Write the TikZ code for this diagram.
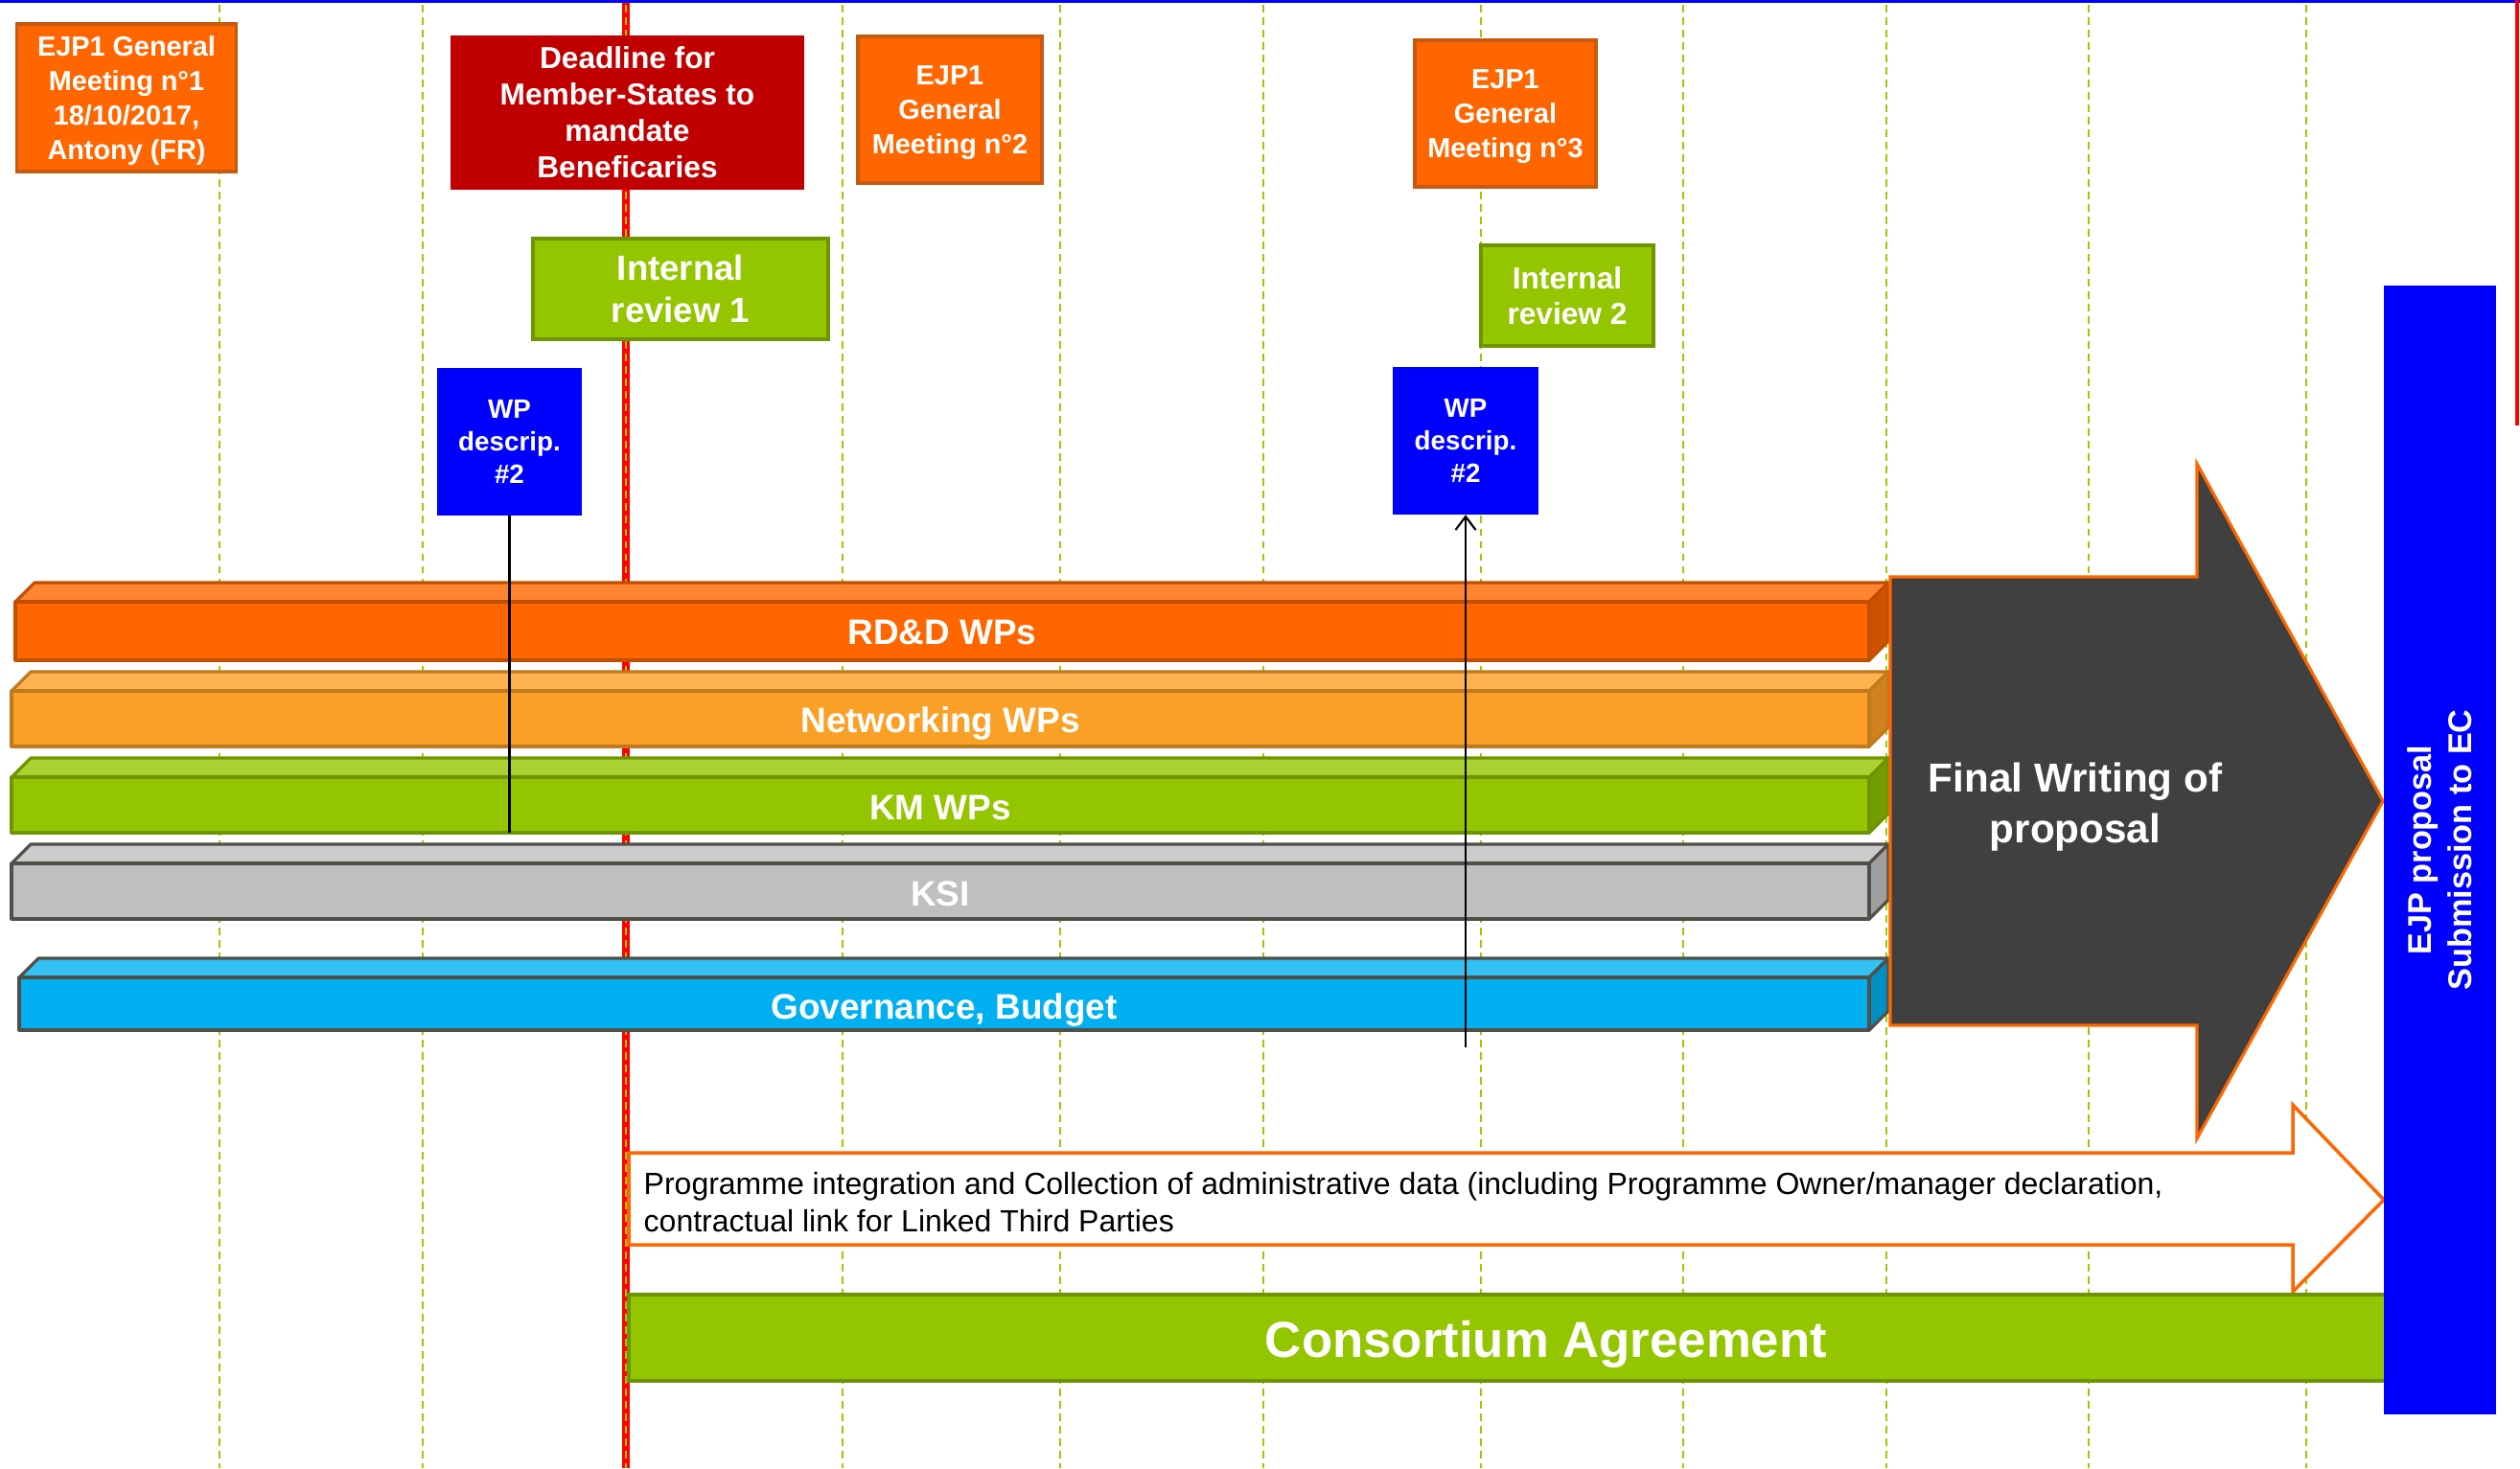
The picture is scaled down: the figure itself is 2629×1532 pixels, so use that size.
\documentclass[tikz,border=0pt]{standalone}
\usepackage{fontspec}
\setmainfont{Liberation Sans}
\usetikzlibrary{arrows.meta}

\definecolor{ejporange}{HTML}{FF6600}
\definecolor{orangeedge}{HTML}{C55A11}
\definecolor{deadred}{HTML}{C00000}
\definecolor{ejpgreen}{HTML}{94C600}
\definecolor{greenedge}{HTML}{6E9400}
\definecolor{wpblue}{HTML}{0000FF}
\definecolor{gridgreen}{HTML}{99CC00}
\definecolor{rddtop}{HTML}{FF8533}
\definecolor{rddside}{HTML}{CC5200}
\definecolor{rddedge}{HTML}{C04F00}
\definecolor{nettop}{HTML}{FDB24F}
\definecolor{netfront}{HTML}{FBA026}
\definecolor{netside}{HTML}{D0821C}
\definecolor{netedge}{HTML}{BF7A1E}
\definecolor{kmtop}{HTML}{AAD232}
\definecolor{kmside}{HTML}{729C00}
\definecolor{ksitop}{HTML}{CCCCCC}
\definecolor{ksifront}{HTML}{BFBFBF}
\definecolor{ksiside}{HTML}{9F9F9F}
\definecolor{darkedge}{HTML}{524E48}
\definecolor{govtop}{HTML}{33C0F3}
\definecolor{govfront}{HTML}{00B0F0}
\definecolor{govside}{HTML}{0090C4}
\definecolor{finalgrey}{HTML}{404040}

\tikzset{
  gridline/.style={gridgreen, line width=0.55pt, dash pattern=on 2.2pt off 1.5pt},
  meetbox/.style={draw=orangeedge, fill=ejporange, line width=1pt, text=white,
    align=center, inner sep=0pt, text depth=0pt,
    font=\bfseries\fontsize{8.2}{10.2}\selectfont},
  deadbox/.style={fill=deadred, text=white, align=center, inner sep=0pt,
    font=\bfseries\fontsize{9}{10.8}\selectfont},
  reviewbox/.style={draw=greenedge, fill=ejpgreen, line width=1pt, text=white,
    align=center, inner sep=0pt},
  wpbox/.style={fill=wpblue, text=white, align=center, inner sep=0pt,
    minimum width=1.51cm, minimum height=1.53cm,
    font=\bfseries\fontsize{7.9}{9.6}\selectfont},
  barface/.style={line width=0.9pt, line join=round},
  bartext/.style={text=white, inner sep=0pt, anchor=base,
    font=\bfseries\fontsize{10.5}{12}\selectfont},
}

\begin{document}
\begin{tikzpicture}[x=0.01cm, y=-0.01cm]
    \useasboundingbox (0,0) rectangle (2629,1532);

    % Time grid
    \foreach \x in {229,441,879,1106,1318,1545,1756,1968,2179,2406}
        \draw [gridline] (\x,5) -- (\x,1532);
    \draw [red, line width=2pt] (653,0) -- (653,1532);
    \draw [gridline] (653,5) -- (653,1532);

    % Slide edges
    \draw [wpblue, line width=0.9pt] (0,1.5) -- (2629,1.5);
    \draw [red, line width=0.9pt] (2626,0) -- (2626,444);

    % Milestones
    \node [meetbox, minimum width=2.29cm, minimum height=1.54cm] (gm1) at (132,102)
        {EJP1 General\\Meeting n°1\\18/10/2017,\\Antony (FR)};
    \node [deadbox, minimum width=3.69cm, minimum height=1.61cm] (dead) at (654.5,117.5)
        {Deadline for\\Member-States to\\mandate\\Beneficaries};
    \node [meetbox, minimum width=1.92cm, minimum height=1.53cm] (gm2) at (991,114.5)
        {EJP1\\General\\Meeting n°2};
    \node [meetbox, minimum width=1.89cm, minimum height=1.53cm] (gm3) at (1570.5,118.5)
        {EJP1\\General\\Meeting n°3};

    % Reviews
    \node [reviewbox, minimum width=3.08cm, minimum height=1.05cm,
        font=\bfseries\fontsize{10.4}{12.7}\selectfont] (rev1) at (710,301.5)
        {Internal\\review 1};
    \node [reviewbox, minimum width=1.80cm, minimum height=1.05cm,
        font=\bfseries\fontsize{9}{10.7}\selectfont] (rev2) at (1635,308.5)
        {Internal\\review 2};

    % WP descriptions
    \node [wpbox] (wpa) at (531.5,461) {WP\\descrip.\\\#2};
    \node [wpbox] (wpb) at (1529,460) {WP\\descrip.\\\#2};

    % RD&D WPs
    \draw [barface, fill=rddtop, draw=rddedge] (16,628) -- (36,608) -- (1970,608) -- (1950,628) -- cycle;
    \draw [barface, fill=rddside, draw=rddedge] (1950,628) -- (1970,608) -- (1970,669) -- (1950,689) -- cycle;
    \draw [barface, fill=ejporange, draw=rddedge] (16,628) rectangle (1950,689);
    \node [bartext] (rdd) at (983,672) {RD\&D WPs};

    % Networking WPs
    \draw [barface, fill=nettop, draw=netedge] (12,721) -- (32,701) -- (1970,701) -- (1950,721) -- cycle;
    \draw [barface, fill=netside, draw=netedge] (1950,721) -- (1970,701) -- (1970,759) -- (1950,779) -- cycle;
    \draw [barface, fill=netfront, draw=netedge] (12,721) rectangle (1950,779);
    \node [bartext] (net) at (981,764) {Networking WPs};

    % KM WPs
    \draw [barface, fill=kmtop, draw=greenedge] (12,811) -- (32,791) -- (1970,791) -- (1950,811) -- cycle;
    \draw [barface, fill=kmside, draw=greenedge] (1950,811) -- (1970,791) -- (1970,849) -- (1950,869) -- cycle;
    \draw [barface, fill=ejpgreen, draw=greenedge] (12,811) rectangle (1950,869);
    \node [bartext] (km) at (981,855) {KM WPs};

    % KSI
    \draw [barface, fill=ksitop, draw=darkedge] (12,901) -- (32,881) -- (1970,881) -- (1950,901) -- cycle;
    \draw [barface, fill=ksiside, draw=darkedge] (1950,901) -- (1970,881) -- (1970,939) -- (1950,959) -- cycle;
    \draw [barface, fill=ksifront, draw=darkedge] (12,901) rectangle (1950,959);
    \node [bartext] (ksi) at (981,945) {KSI};

    % Governance, Budget
    \draw [barface, fill=govtop, draw=darkedge] (20,1020) -- (40,1000) -- (1970,1000) -- (1950,1020) -- cycle;
    \draw [barface, fill=govside, draw=darkedge] (1950,1020) -- (1970,1000) -- (1970,1055) -- (1950,1075) -- cycle;
    \draw [barface, fill=govfront, draw=darkedge] (20,1020) rectangle (1950,1075);
    \node [bartext] (gov) at (985,1063) {Governance, Budget};

    % Final writing
    \draw [fill=finalgrey, draw=ejporange, line width=0.9pt, line join=miter]
        (1972,602) -- (2292,602) -- (2292,484) -- (2486,836)
        -- (2292,1188) -- (2292,1070) -- (1972,1070) -- cycle;
    \node [text=white, align=center, font=\bfseries\fontsize{12}{15.2}\selectfont]
        (final) at (2165,842) {Final Writing of\\proposal};

    % Programme integration
    \draw [fill=white, draw=ejporange, line width=1pt]
        (656,1203) -- (2392,1203) -- (2392,1153) -- (2487,1252)
        -- (2392,1348) -- (2392,1299) -- (656,1299) -- cycle;
    \node [anchor=north west, inner sep=0pt, align=left, font=\fontsize{9.1}{11}\selectfont]
        (prog) at (671,1223)
        {Programme integration and Collection of administrative data (including Programme Owner/manager declaration,\\
         contractual link for Linked Third Parties};

    % Consortium Agreement
    \draw [fill=ejpgreen, draw=greenedge, line width=1pt] (656,1351) rectangle (2570,1441);
    \node [text=white, font=\bfseries\fontsize{15}{18}\selectfont] (ca) at (1613,1403)
        {Consortium Agreement};

    % Submission
    \node [fill=wpblue, rotate=90, minimum width=11.78cm, minimum height=1.17cm,
        inner sep=0pt, text=white, align=center,
        font=\bfseries\fontsize{9.75}{12}\selectfont] (sub) at (2545.5,887)
        {EJP proposal\\Submission to EC};

    % Links
    \coordinate (kmfoot) at (531.5,869);
    \coordinate (govfoot) at (1529,1093);
    \draw [line width=0.6pt] (wpa.south) -- (kmfoot);
    \draw [line width=0.6pt, -{Straight Barb[length=4pt,width=6pt]}] (govfoot) -- (wpb.south);
\end{tikzpicture}
\end{document}
